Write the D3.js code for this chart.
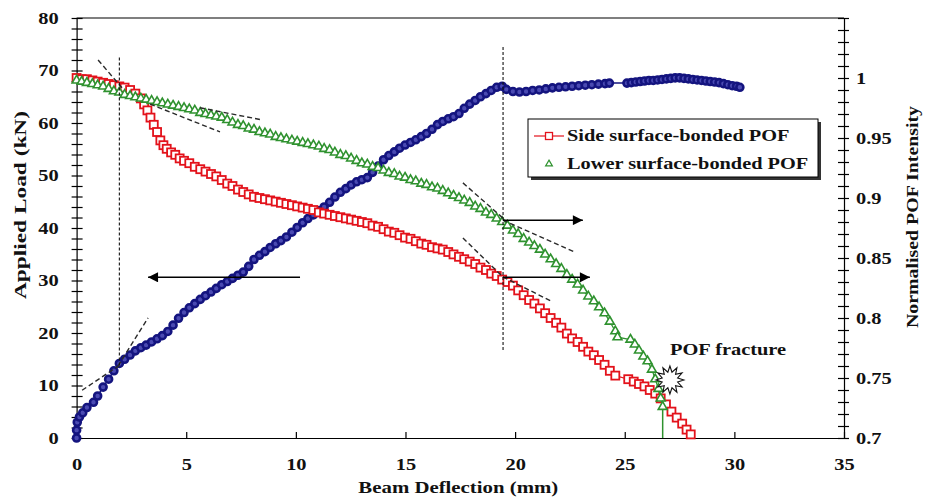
<!DOCTYPE html>
<html>
<head>
<meta charset="utf-8">
<script src="https://cdn.jsdelivr.net/npm/d3@7"></script>
<style>
  body { margin: 0; background: #fff; }
  svg { display: block; }
  text { font-family: "Liberation Serif", "Times New Roman", serif; font-weight: bold; fill: #111; }
</style>
</head>
<body>
<svg id="chart" width="929" height="497"></svg>
<script>
// Side surface-bonded POF: [deflection (mm), normalised intensity]
const sideSurface = [
  [0,1.000],[0.23,0.999],[0.47,0.999],[0.72,0.998],[0.96,0.997],[1.21,0.996],[1.46,0.995],[1.70,0.994],
  [1.95,0.993],[2.19,0.992],[2.44,0.990],[2.68,0.987],[2.93,0.983],[3.08,0.978],[3.23,0.973],[3.37,0.967],
  [3.52,0.961],[3.67,0.955],[3.82,0.948],[3.96,0.944],[4.11,0.941],[4.31,0.938],[4.50,0.936],[4.70,0.933],
  [4.90,0.931],[5.14,0.929],[5.39,0.926],[5.64,0.924],[5.88,0.922],[6.13,0.920],[6.37,0.918],[6.62,0.915],
  [6.87,0.912],[7.11,0.910],[7.36,0.907],[7.60,0.905],[7.85,0.903],[8.09,0.901],[8.34,0.900],[8.59,0.899],
  [8.83,0.898],[9.08,0.897],[9.32,0.896],[9.57,0.895],[9.82,0.894],[10.06,0.893],[10.31,0.892],[10.55,0.891],
  [10.80,0.890],[11.05,0.888],[11.29,0.887],[11.54,0.886],[11.78,0.885],[12.03,0.884],[12.28,0.883],[12.52,0.882],
  [12.77,0.881],[13.01,0.880],[13.26,0.879],[13.50,0.877],[13.75,0.876],[14.00,0.874],[14.24,0.872],[14.49,0.871],
  [14.73,0.869],[14.98,0.867],[15.23,0.866],[15.47,0.864],[15.72,0.862],[15.96,0.861],[16.21,0.859],[16.46,0.858],
  [16.70,0.857],[16.95,0.855],[17.19,0.853],[17.44,0.851],[17.68,0.849],[17.93,0.847],[18.18,0.845],[18.42,0.842],
  [18.67,0.840],[18.91,0.837],[19.16,0.835],[19.41,0.832],[19.65,0.830],[19.90,0.827],[20.14,0.823],[20.39,0.819],
  [20.64,0.815],[20.88,0.812],[21.13,0.808],[21.37,0.804],[21.62,0.800],[21.87,0.796],[22.11,0.792],[22.36,0.787],
  [22.60,0.783],[22.85,0.780],[23.10,0.776],[23.34,0.772],[23.59,0.769],[23.83,0.765],[24.08,0.761],[24.32,0.756],
  [24.57,0.752],[25.16,0.749],[25.41,0.747],[25.65,0.745],[25.90,0.743],[26.14,0.740],[26.39,0.737],[26.64,0.733],
  [26.88,0.728],[27.13,0.722],[27.37,0.717],[27.62,0.712],[27.82,0.707],[28.01,0.703]
];

// Lower surface-bonded POF: [deflection (mm), normalised intensity]
const lowerSurface = [
  [0,0.998],[0.23,0.997],[0.47,0.996],[0.72,0.995],[0.96,0.994],[1.21,0.993],[1.46,0.991],[1.70,0.989],
  [1.95,0.988],[2.19,0.986],[2.44,0.985],[2.68,0.984],[2.93,0.983],[3.17,0.982],[3.42,0.981],[3.67,0.980],
  [3.91,0.979],[4.16,0.978],[4.40,0.977],[4.65,0.976],[4.90,0.975],[5.14,0.974],[5.39,0.973],[5.64,0.971],
  [5.88,0.970],[6.13,0.969],[6.37,0.968],[6.62,0.967],[6.87,0.965],[7.11,0.963],[7.36,0.961],[7.60,0.960],
  [7.85,0.958],[8.09,0.957],[8.34,0.955],[8.59,0.954],[8.83,0.953],[9.08,0.951],[9.32,0.950],[9.57,0.949],
  [9.82,0.948],[10.06,0.947],[10.31,0.946],[10.55,0.945],[10.80,0.944],[11.05,0.943],[11.29,0.941],[11.54,0.940],
  [11.78,0.938],[12.03,0.936],[12.28,0.935],[12.52,0.933],[12.77,0.931],[13.01,0.929],[13.26,0.928],[13.50,0.926],
  [13.75,0.925],[14.00,0.923],[14.24,0.921],[14.49,0.920],[14.73,0.918],[14.98,0.917],[15.23,0.915],[15.47,0.914],
  [15.72,0.912],[15.96,0.911],[16.21,0.909],[16.46,0.908],[16.70,0.906],[16.95,0.904],[17.19,0.902],[17.44,0.900],
  [17.68,0.898],[17.93,0.896],[18.18,0.893],[18.42,0.891],[18.67,0.888],[18.91,0.886],[19.16,0.883],[19.41,0.880],
  [19.65,0.877],[19.90,0.873],[20.14,0.870],[20.39,0.866],[20.64,0.863],[20.88,0.860],[21.13,0.857],[21.37,0.853],
  [21.62,0.849],[21.87,0.845],[22.11,0.841],[22.36,0.836],[22.60,0.832],[22.85,0.828],[23.10,0.823],[23.34,0.818],
  [23.59,0.814],[23.83,0.809],[24.08,0.804],[24.32,0.797],[24.57,0.789],[24.67,0.784],[25.26,0.782],[25.46,0.778],
  [25.65,0.773],[25.85,0.768],[26.04,0.764],[26.24,0.757],[26.39,0.749],[26.54,0.741],[26.64,0.733],[26.73,0.726]
];
// intensity after the lower fibre breaks
const lowerFracture = [[26.73,0.726],[26.73,0.700]];

// Applied load: [deflection (mm), load (kN)]
const appliedLoad = [
  [0,0],[0,1.5],[0.03,3.0],[0.13,4.0],[0.28,4.8],[0.47,5.8],[0.77,6.8],[0.96,8.0],[1.21,9.7],[1.46,11.2],
  [1.70,12.8],[1.95,14.2],[2.19,15.0],[2.44,15.8],[2.68,16.6],[2.93,17.2],[3.17,17.7],[3.42,18.3],[3.67,18.9],
  [3.91,19.5],[4.16,20.3],[4.40,21.5],[4.65,22.8],[4.90,23.9],[5.14,24.8],[5.39,25.6],[5.64,26.4],[5.88,27.1],
  [6.13,27.8],[6.37,28.5],[6.62,29.2],[6.87,29.8],[7.11,30.4],[7.36,31.0],[7.60,31.6],[7.85,32.7],[8.09,34.0],
  [8.34,34.8],[8.59,35.5],[8.83,36.3],[9.08,37.0],[9.32,37.6],[9.57,38.3],[9.82,39.2],[10.06,40.1],[10.31,41.0],
  [10.55,41.8],[10.80,42.5],[11.05,43.3],[11.29,44.0],[11.54,44.9],[11.78,45.9],[12.03,46.8],[12.28,47.5],
  [12.52,48.2],[12.77,48.8],[13.01,49.2],[13.26,49.6],[13.50,50.6],[13.75,51.8],[14.00,53.0],[14.24,53.8],
  [14.49,54.5],[14.73,55.2],[14.98,55.8],[15.23,56.3],[15.47,56.8],[15.72,57.4],[15.96,58.0],[16.21,58.8],
  [16.46,59.7],[16.70,60.3],[16.95,60.8],[17.19,61.2],[17.44,61.8],[17.68,62.8],[17.93,63.6],[18.18,64.3],
  [18.42,65.0],[18.67,65.6],[18.91,66.2],[19.16,66.8],[19.41,67.0],[19.6,66.4],[19.9,66.0],[20.2,65.9],
  [20.5,66.0],[20.8,66.2],[21.1,66.3],[21.4,66.5],[21.7,66.7],[22.0,66.8],[22.3,66.9],[22.6,67.0],[22.9,67.1],
  [23.2,67.2],[23.5,67.3],[23.8,67.4],[24.1,67.5],[24.3,67.6],[25.1,67.6],[25.3,67.7],[25.5,67.8],[25.7,67.9],
  [25.9,68.0],[26.1,68.1],[26.3,68.1],[26.5,68.2],[26.7,68.3],[26.9,68.4],[27.1,68.5],[27.3,68.6],[27.5,68.6],
  [27.7,68.5],[27.9,68.4],[28.1,68.3],[28.3,68.2],[28.5,68.1],[28.7,68.0],[28.9,67.9],[29.1,67.8],[29.3,67.7],
  [29.5,67.5],[29.7,67.3],[29.9,67.1],[30.1,67.0],[30.25,66.8]
];

// Axis ticks
const deflectionTicks = [0, 5, 10, 15, 20, 25, 30, 35];
const loadTicks = [0, 10, 20, 30, 40, 50, 60, 70, 80];
const intensityTicks = [0.7, 0.75, 0.8, 0.85, 0.9, 0.95, 1];

// Construction lines (deflection mm, load-axis kN)
const tangentLines = [
  [0.98, 72.0, 2.07, 66.7], [3.35, 63.6, 6.54, 58.3], [5.63, 62.9, 8.45, 60.6],
  [0.25, 9.1, 1.98, 13.9], [1.89, 13.7, 3.26, 22.9],
  [17.62, 48.6, 19.44, 41.9], [19.44, 41.5, 22.73, 35.4],
  [17.62, 38.1, 19.44, 30.7], [19.44, 30.7, 21.72, 25.9]
];
const markerLines = [[1.95, 72.5, 13.9], [19.45, 74.5, 16.4]];
// arrows: from deflection, to deflection, at load level
const axisArrows = [[10.19, 3.26, 30.6], [19.45, 23.09, 41.5], [19.45, 23.41, 30.6]];
const fracturePoint = [27.06, 11.05];

const svg = d3.select("#chart");
const M = { left: 76.6, right: 844, top: 18, bottom: 438 };
const x = d3.scaleLinear().domain([0, 35]).range([M.left, M.right]);
const yLoad = d3.scaleLinear().domain([0, 80]).range([M.bottom, M.top]);
const yInt = d3.scaleLinear().domain([0.7, 1.05]).range([M.bottom, M.top]);

const RED = "#e3121b", GREEN = "#2f922f", NAVY = "#14147f";
const FONT = '"Liberation Serif", "Times New Roman", serif';

function widen(sel, k) {
  sel.each(function () {
    const w = this.getComputedTextLength();
    d3.select(this).attr("textLength", w * k).attr("lengthAdjust", "spacingAndGlyphs");
  });
}
function styleTicks(g) {
  g.selectAll("text").attr("font-size", 17).style("font-family", FONT)
    .style("font-weight", "bold").style("fill", "#111").call(widen, 1.2);
}

// frame
svg.append("line").attr("x1", M.left).attr("x2", M.right).attr("y1", M.top).attr("y2", M.top)
  .attr("stroke", "#000").attr("stroke-width", 1.2);

// bottom axis
const gx = svg.append("g").attr("transform", `translate(0,${M.bottom})`)
  .call(d3.axisBottom(x).tickValues(deflectionTicks).tickSizeInner(-6).tickSizeOuter(0).tickPadding(20));
gx.select(".domain").attr("stroke", "#000").attr("stroke-width", 1.2);
gx.selectAll(".tick line").attr("stroke", "#000").attr("stroke-width", 1.2);
styleTicks(gx);

// left axis
const gl = svg.append("g").attr("transform", `translate(${M.left},0)`)
  .call(d3.axisLeft(yLoad).tickValues(d3.range(0, 81, 2)).tickSize(4).tickPadding(14)
    .tickFormat(d => loadTicks.includes(d) ? d : ""));
gl.select(".domain").attr("stroke", "#000").attr("stroke-width", 1.2);
gl.selectAll(".tick line").attr("x1", 6).attr("x2", -5).attr("stroke", "#000").attr("stroke-width", 1.2);
styleTicks(gl);

// right axis
const gr = svg.append("g").attr("transform", `translate(${M.right},0)`)
  .call(d3.axisRight(yInt).tickValues(d3.range(70, 106, 1).map(d => d / 100)).tickSize(4).tickPadding(8)
    .tickFormat(d => intensityTicks.some(t => Math.abs(t - d) < 1e-9) ? String(+d.toFixed(2)) : ""));
gr.select(".domain").attr("stroke", "#000").attr("stroke-width", 1.2);
gr.selectAll(".tick line").attr("x1", -6).attr("x2", 5).attr("stroke", "#000").attr("stroke-width", 1.2);
styleTicks(gr);

// axis titles
svg.append("text").attr("x", (M.left + M.right) / 2 - 2).attr("y", 493).attr("text-anchor", "middle")
  .attr("font-size", 16).text("Beam Deflection (mm)").call(widen, 1.3);
svg.append("text").attr("transform", "translate(26,205) rotate(-90)").attr("text-anchor", "middle")
  .attr("font-size", 17).attr("textLength", 188).attr("lengthAdjust", "spacingAndGlyphs")
  .text("Applied Load (kN)");
svg.append("text").attr("transform", "translate(918,217) rotate(-90)").attr("text-anchor", "middle")
  .attr("font-size", 17).attr("textLength", 222).attr("lengthAdjust", "spacingAndGlyphs")
  .text("Normalised POF Intensity");

// applied load curve
svg.append("path").datum(appliedLoad)
  .attr("d", d3.line().x(d => x(d[0])).y(d => yLoad(d[1])))
  .attr("fill", "none").attr("stroke", NAVY).attr("stroke-width", 1.5);
svg.append("g").selectAll("circle").data(appliedLoad).join("circle")
  .attr("cx", d => x(d[0])).attr("cy", d => yLoad(d[1])).attr("r", 3.5)
  .attr("fill", "#4a4ab2").attr("stroke", NAVY).attr("stroke-width", 2.6);

// side surface-bonded POF
svg.append("path").datum(sideSurface)
  .attr("d", d3.line().x(d => x(d[0])).y(d => yInt(d[1])))
  .attr("fill", "none").attr("stroke", RED).attr("stroke-width", 1.2);
svg.append("g").selectAll("rect").data(sideSurface).join("rect")
  .attr("x", d => x(d[0]) - 4).attr("y", d => yInt(d[1]) - 4).attr("width", 8).attr("height", 8)
  .attr("fill", "#fff").attr("stroke", RED).attr("stroke-width", 1.8);

// lower surface-bonded POF
svg.append("path").datum(lowerSurface)
  .attr("d", d3.line().x(d => x(d[0])).y(d => yInt(d[1])))
  .attr("fill", "none").attr("stroke", GREEN).attr("stroke-width", 1.2);
svg.append("path").datum(lowerFracture)
  .attr("d", d3.line().x(d => x(d[0])).y(d => yInt(d[1])))
  .attr("fill", "none").attr("stroke", GREEN).attr("stroke-width", 1.5);
const tri = d3.symbol().type(d3.symbolTriangle).size(34);
svg.append("g").selectAll("path").data(lowerSurface).join("path")
  .attr("transform", d => `translate(${x(d[0])},${yInt(d[1])})`).attr("d", tri)
  .attr("fill", "#fff").attr("stroke", GREEN).attr("stroke-width", 1.6);

// construction lines
svg.append("g").selectAll("line").data(tangentLines).join("line")
  .attr("x1", d => x(d[0])).attr("y1", d => yLoad(d[1])).attr("x2", d => x(d[2])).attr("y2", d => yLoad(d[3]))
  .attr("stroke", "#2a2a2a").attr("stroke-width", 1.4).attr("stroke-dasharray", "5,3");
svg.append("g").selectAll("line").data(markerLines).join("line")
  .attr("x1", d => x(d[0])).attr("x2", d => x(d[0])).attr("y1", d => yLoad(d[1])).attr("y2", d => yLoad(d[2]))
  .attr("stroke", "#111").attr("stroke-width", 1.1).attr("stroke-dasharray", "3,2");

// arrows pointing to the relevant axis
svg.append("defs").append("marker").attr("id", "head").attr("viewBox", "0 0 10 10")
  .attr("refX", 10).attr("refY", 5).attr("markerWidth", 16).attr("markerHeight", 10)
  .attr("markerUnits", "userSpaceOnUse").attr("orient", "auto")
  .append("path").attr("d", "M0,0 L10,5 L0,10 Z").attr("fill", "#000");
svg.append("g").selectAll("line").data(axisArrows).join("line")
  .attr("x1", d => x(d[0])).attr("x2", d => x(d[1])).attr("y1", d => yLoad(d[2])).attr("y2", d => yLoad(d[2]))
  .attr("stroke", "#000").attr("stroke-width", 1.5).attr("marker-end", "url(#head)");

// fracture star
const fx = x(fracturePoint[0]), fy = yLoad(fracturePoint[1]);
const spikes = 12, rOut = 14, rIn = 8;
const starPts = d3.range(spikes * 2).map(i => {
  const a = Math.PI * i / spikes, r = i % 2 ? rIn : rOut;
  return [fx + r * Math.sin(a), fy - r * Math.cos(a)];
});
svg.append("polygon").attr("points", starPts.map(p => p.join(",")).join(" "))
  .attr("fill", "#fff").attr("stroke", "#111").attr("stroke-width", 1.1);
svg.append("text").attr("x", 670).attr("y", 355).attr("font-size", 17).text("POF fracture").call(widen, 1.2);

// legend
const lg = svg.append("g").attr("transform", "translate(528,119)");
lg.append("rect").attr("x", 3).attr("y", 3).attr("width", 290).attr("height", 58).attr("fill", "#333");
lg.append("rect").attr("width", 290).attr("height", 58).attr("fill", "#fff").attr("stroke", "#000").attr("stroke-width", 1);
lg.append("line").attr("x1", 6).attr("x2", 36).attr("y1", 17).attr("y2", 17).attr("stroke", RED).attr("stroke-width", 1.2);
lg.append("rect").attr("x", 17.5).attr("y", 13.5).attr("width", 7).attr("height", 7).attr("fill", "#fff").attr("stroke", RED).attr("stroke-width", 1.3);
lg.append("path").attr("transform", "translate(21,45)").attr("d", d3.symbol().type(d3.symbolTriangle).size(20)())
  .attr("fill", "#fff").attr("stroke", GREEN).attr("stroke-width", 1.2);
lg.append("text").attr("x", 39).attr("y", 22).attr("font-size", 16).text("Side surface-bonded POF").call(widen, 1.27);
lg.append("text").attr("x", 39).attr("y", 50).attr("font-size", 16).text("Lower surface-bonded POF").call(widen, 1.27);
</script>
</body>
</html>
